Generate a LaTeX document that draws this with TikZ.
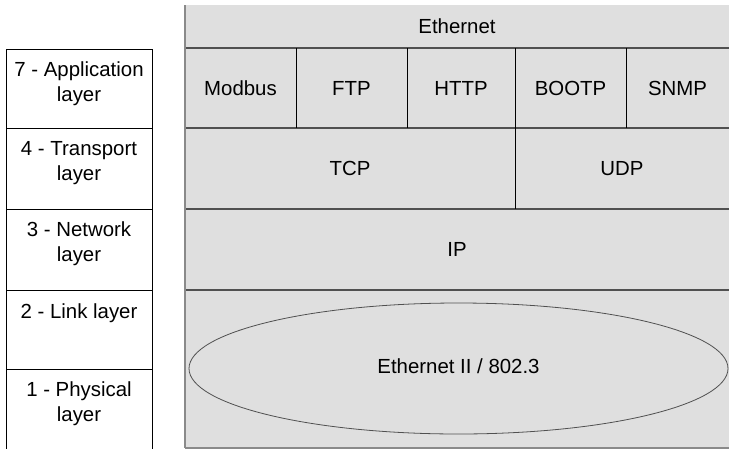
\documentclass[tikz,border=0pt]{standalone}
\usepackage{fontspec}
\setmainfont{Liberation Sans}
\usetikzlibrary{positioning,shapes.geometric}
\definecolor{panelgray}{HTML}{DFDFDF}
\definecolor{rulegray}{HTML}{505050}
\definecolor{edgegray}{HTML}{8A8A8A}

\begin{document}
\begin{tikzpicture}[x=1pt,y=-1pt,font=\fontsize{20.4}{25}\selectfont]
  \tikzstyle{layerbox}=[draw,fill=white,anchor=north west,minimum width=146pt,inner sep=0pt,outer sep=0pt,line width=0.9pt]
  \tikzstyle{layertext}=[align=center,anchor=north,inner sep=0pt]
  \tikzstyle{cell}=[fill=panelgray,anchor=north west,inner sep=0pt,outer sep=0pt]
  \tikzstyle{hrule}=[draw=rulegray,line width=1.2pt]
  \tikzstyle{vrule}=[draw=black,line width=0.8pt]
  \useasboundingbox (0,0) rectangle (729,448);

  % OSI layers on the left
  \node[layerbox,minimum height=79pt] (app) at (6,49) {};
  \node[layerbox,minimum height=81pt] (trans) at (6,128) {};
  \node[layerbox,minimum height=81pt] (net) at (6,209) {};
  \node[layerbox,minimum height=79pt] (link) at (6,290) {};
  \node[layerbox,minimum height=82pt] (phys) at (6,369) {};
  \node[layertext,below=13pt of app.north] (apptxt) {7 - Application\\layer};
  \node[layertext,below=13pt of trans.north] (transtxt) {4 - Transport\\layer};
  \node[layertext,below=13pt of net.north] (nettxt) {3 - Network\\layer};
  \node[layertext,below=14pt of link.north] (linktxt) {2 - Link layer};
  \node[layertext,below=13pt of phys.north] (phystxt) {1 - Physical\\layer};

  % protocol stack
  \node[cell,minimum width=544pt,minimum height=43pt] (eth) at (185,5) {Ethernet};
  \node[cell,minimum width=111pt,minimum height=80pt] (modbus) at (185,48) {Modbus};
  \node[cell,minimum width=111pt,minimum height=80pt] (ftp) at (296,48) {FTP};
  \node[cell,minimum width=108pt,minimum height=80pt] (http) at (407,48) {HTTP};
  \node[cell,minimum width=111pt,minimum height=80pt] (bootp) at (515,48) {BOOTP};
  \node[cell,minimum width=103pt,minimum height=80pt] (snmp) at (626,48) {SNMP};
  \node[cell,minimum width=330pt,minimum height=81pt] (tcp) at (185,128) {TCP};
  \node[cell,minimum width=214pt,minimum height=81pt] (udp) at (515,128) {UDP};
  \node[cell,minimum width=544pt,minimum height=81pt] (ip) at (185,209) {IP};
  \node[cell,minimum width=544pt,minimum height=158pt] (mac) at (185,290) {};
  \node[ellipse,draw=rulegray,line width=0.8pt,minimum width=539pt,minimum height=131pt,inner sep=0pt] (ethii) at (458.5,368.5) {\raisebox{5pt}{Ethernet II / 802.3}};

  \draw[hrule] (eth.south west) -- (eth.south east);
  \draw[hrule] (modbus.south west) -- (snmp.south east);
  \draw[hrule] (tcp.south west) -- (udp.south east);
  \draw[hrule] (ip.south west) -- (ip.south east);
  \draw[draw=edgegray,line width=1.2pt] (mac.south west) -- (mac.south east);
  \draw[draw=edgegray,line width=1.5pt] (eth.north west) -- (mac.south west);
  \draw[vrule] (modbus.north east) -- (modbus.south east);
  \draw[vrule] (ftp.north east) -- (ftp.south east);
  \draw[vrule] (http.north east) -- (http.south east);
  \draw[vrule] (bootp.north east) -- (bootp.south east);
  \draw[vrule] (tcp.north east) -- (tcp.south east);
\end{tikzpicture}
\end{document}
